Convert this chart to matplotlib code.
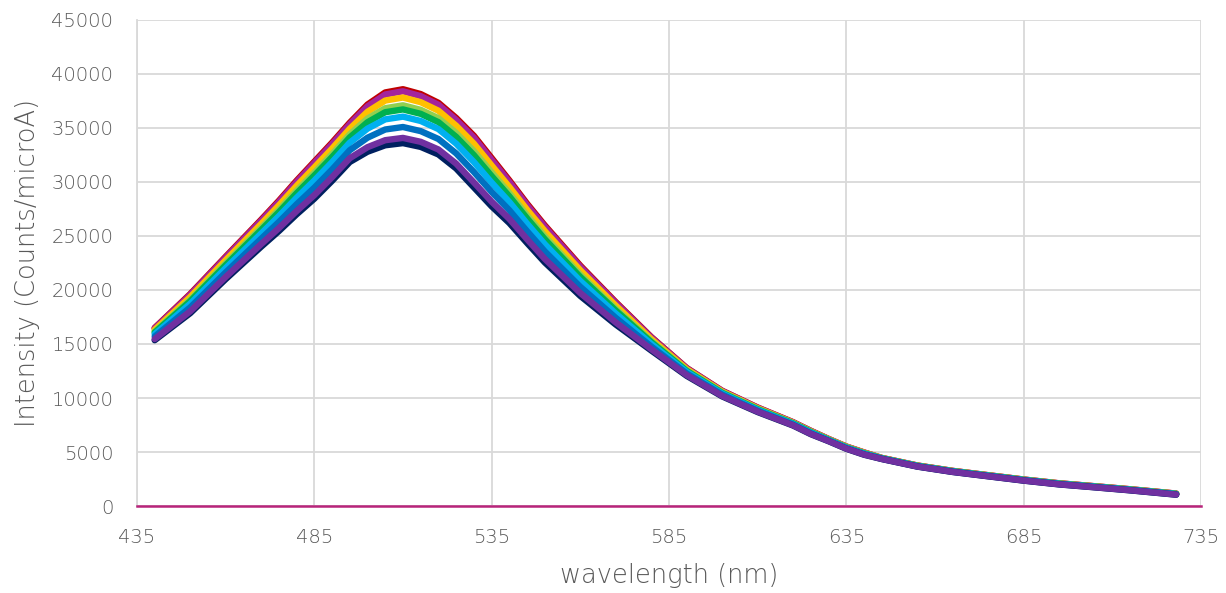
import matplotlib.pyplot as plt

# emission spectra: wavelength (nm) and intensity (thousand counts/microA)
wl = [440, 450, 460, 470, 475, 480, 485, 490, 495, 500, 505, 510, 515, 520, 525, 530, 535, 540, 545, 550,
      555, 560, 570, 580, 590, 600, 610, 620, 625, 630, 635, 640, 645, 655, 665, 675, 685, 695, 705, 715, 728]

darkred = [16.49, 19.62, 23.08, 26.50, 28.26, 30.12, 31.88, 33.64, 35.49, 37.17, 38.29, 38.59, 38.14, 37.33,
           35.93, 34.28, 32.22, 30.15, 27.99, 25.98, 24.12, 22.26, 18.88, 15.65, 12.78, 10.67, 9.12, 7.76,
           6.96, 6.21, 5.51, 4.96, 4.45, 3.75, 3.25, 2.85, 2.45, 2.10, 1.83, 1.55, 1.15]
magenta = [16.45, 19.55, 23.0, 26.4, 28.15, 30.0, 31.75, 33.5, 35.35, 37.0, 38.1, 38.4, 37.95, 37.15,
           35.75, 34.1, 32.05, 30.0, 27.85, 25.85, 24.0, 22.15, 18.8, 15.6, 12.75, 10.65, 9.1, 7.75,
           6.95, 6.2, 5.5, 4.95, 4.45, 3.75, 3.25, 2.85, 2.45, 2.10, 1.83, 1.55, 1.15]
gold = [16.32, 19.35, 22.76, 26.11, 27.83, 29.64, 31.35, 33.09, 34.93, 36.5, 37.54, 37.82, 37.39, 36.6,
        35.21, 33.55, 31.53, 29.54, 27.43, 25.45, 23.64, 21.83, 18.56, 15.46, 12.67, 10.59, 9.05, 7.71,
        6.91, 6.18, 5.48, 4.93, 4.44, 3.74, 3.24, 2.84, 2.44, 2.09, 1.82, 1.54, 1.14]
lightgreen = [16.15, 19.09, 22.46, 25.75, 27.42, 29.19, 30.86, 32.58, 34.41, 35.87, 36.83, 37.1, 36.68, 35.91,
              34.54, 32.86, 30.89, 28.97, 26.91, 24.96, 23.19, 21.42, 18.26, 15.28, 12.56, 10.52, 8.99, 7.67,
              6.87, 6.15, 5.45, 4.9, 4.42, 3.72, 3.22, 2.82, 2.42, 2.07, 1.80, 1.52, 1.12]
green = [16.07, 18.96, 22.3, 25.56, 27.21, 28.95, 30.6, 32.31, 34.13, 35.53, 36.46, 36.72, 36.31, 35.54,
         34.18, 32.49, 30.55, 28.67, 26.63, 24.7, 22.95, 21.21, 18.1, 15.18, 12.51, 10.48, 8.96, 7.65,
         6.85, 6.13, 5.43, 4.88, 4.42, 3.72, 3.22, 2.82, 2.42, 2.07, 1.80, 1.52, 1.12]
cyan = [15.91, 18.72, 22.02, 25.22, 26.83, 28.53, 30.13, 31.83, 33.64, 34.94, 35.8, 36.05, 35.65, 34.9,
        33.55, 31.85, 29.94, 28.14, 26.14, 24.23, 22.53, 20.83, 17.82, 15.01, 12.41, 10.41, 8.9, 7.6,
        6.8, 6.1, 5.4, 4.85, 4.4, 3.7, 3.2, 2.8, 2.4, 2.05, 1.78, 1.5, 1.1]
blue = [15.69, 18.38, 21.62, 24.74, 26.29, 27.93, 29.47, 31.15, 32.94, 34.1, 34.86, 35.09, 34.71, 33.98,
        32.65, 30.93, 29.08, 27.38, 25.44, 23.57, 21.93, 20.29, 17.42, 14.77, 12.27, 10.31, 8.82, 7.54,
        6.74, 6.06, 5.36, 4.81, 4.38, 3.68, 3.18, 2.78, 2.38, 2.03, 1.76, 1.48, 1.08]
navy = [15.35, 17.85, 21.0, 24.0, 25.45, 27.0, 28.45, 30.1, 31.85, 32.8, 33.4, 33.6, 33.25, 32.55,
        31.25, 29.5, 27.75, 26.2, 24.35, 22.55, 21.0, 19.45, 16.8, 14.4, 12.05, 10.15, 8.7, 7.45,
        6.65, 6.0, 5.3, 4.75, 4.35, 3.65, 3.15, 2.75, 2.35, 2.0, 1.73, 1.45, 1.05]
purple = [15.46, 18.02, 21.2, 24.24, 25.72, 27.3, 28.78, 30.44, 32.2, 33.22, 33.87, 34.08, 33.72, 33.01,
          31.7, 29.96, 28.18, 26.58, 24.7, 22.88, 21.3, 19.72, 17.0, 14.52, 12.12, 10.2, 8.74, 7.48,
          6.68, 6.02, 5.32, 4.77, 4.36, 3.66, 3.16, 2.76, 2.36, 2.01, 1.74, 1.46, 1.06]

# blank run, flat at zero over the whole range
blank_wl = [435, 735]
blank = [0, 0]

xticks = [435, 485, 535, 585, 635, 685, 735]
yticks = [0, 5000, 10000, 15000, 20000, 25000, 30000, 35000, 40000, 45000]

series = [(darkred, '#C00000'), (magenta, '#A3249C'), (gold, '#FFC000'),
          (lightgreen, '#92D050'), (green, '#00B050'), (cyan, '#00B0F0'),
          (blue, '#0070C0'), (navy, '#002060'), (purple, '#7030A0')]

plt.rcParams['font.family'] = ['DejaVu Sans']
grey = '#595959'

fig = plt.figure(figsize=(12.26, 5.93), dpi=100)
ax = fig.add_axes([0.1117, 0.1467, 0.8679, 0.8196])

for vals, col in series:
    ax.plot(wl, [v * 1000 for v in vals], color=col, lw=4.6, solid_capstyle='round',
            solid_joinstyle='round', zorder=3)
ax.plot(blank_wl, blank, color='#B8247A', lw=1.8, zorder=4, clip_on=False)

ax.set_xlim(435, 735)
ax.set_ylim(0, 45000)
ax.set_xticks(xticks)
ax.set_yticks(yticks)
ax.tick_params(length=0, labelsize=14, labelcolor=grey)
ax.tick_params(axis='x', pad=16)
ax.tick_params(axis='y', pad=17)
for lab in ax.get_xticklabels() + ax.get_yticklabels():
    lab.set_fontweight('light')
ax.grid(color='#D9D9D9', lw=1.3)
ax.set_axisbelow(True)
for s in ['top', 'right', 'bottom']:
    ax.spines[s].set_visible(False)
ax.spines['left'].set_color('#D9D9D9')
ax.spines['left'].set_linewidth(1.3)

ax.set_xlabel('wavelength (nm)', fontsize=18.5, color=grey, labelpad=11, fontweight='light')
ax.set_ylabel('Intensity (Counts/microA)', fontsize=18.5, color=grey, labelpad=8, fontweight='light')

fig.savefig('out.png', dpi=100)
